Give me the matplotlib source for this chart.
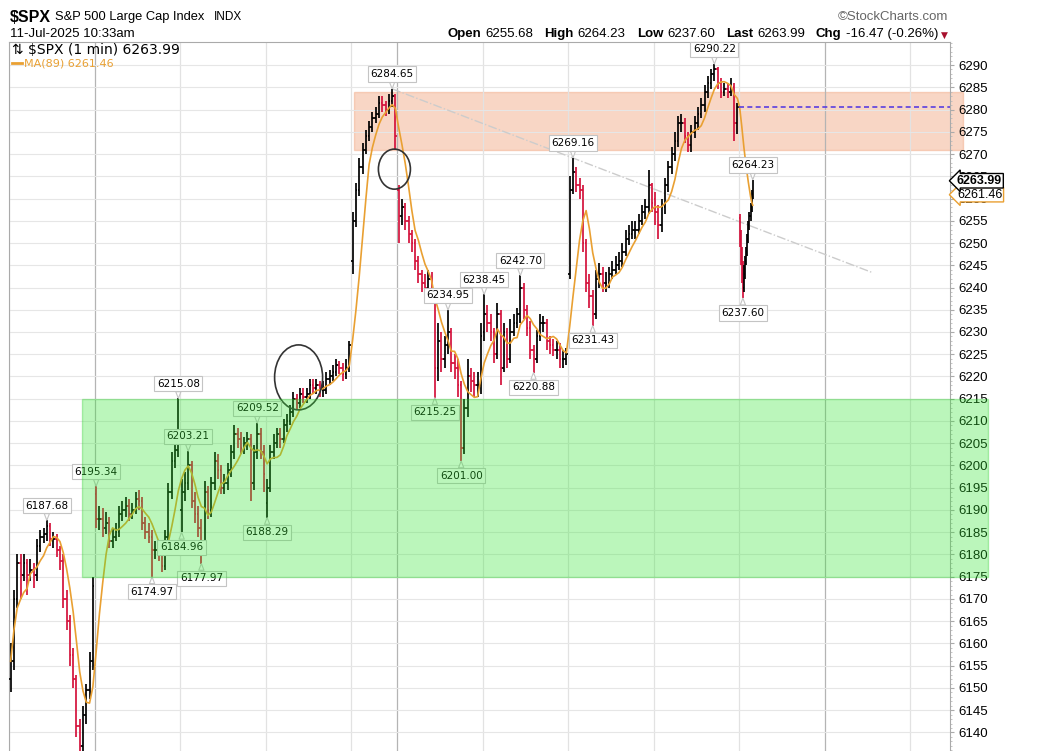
import numpy as np
import pandas as pd
import matplotlib
matplotlib.use('Agg')
import matplotlib.pyplot as plt
from matplotlib.collections import LineCollection
from matplotlib.patches import Rectangle, Ellipse

plt.rcParams['font.family'] = ['Liberation Sans', 'DejaVu Sans']

# sessions shown: 27-Jun, 30-Jun, 1-Jul, 2-Jul, 3-Jul (half day), 7-Jul, 8-Jul, 9-Jul, 10-Jul, 11-Jul
session_len = [390, 390, 390, 390, 210, 390, 390, 390, 390, 390]
bar_minutes = [15, 15, 15, 15, 15, 15, 15, 15, 15, 5]
bars_per_day = [26, 26, 26, 26, 14, 26, 26, 26, 26, 13]
day_opens = [6152, 6193.5, 6190, 6191.5, 6246, 6262, 6230, 6243, 6260, 6255.68]
week_start = [False, True, False, False, False, True, False, False, False, False]

closes = [
    # 27-Jun
    6156, 6170, 6178, 6175.5, 6178, 6175.5, 6176.5, 6175.5, 6182, 6184, 6184.5, 6186.5, 6183.5,
    6183.5, 6181, 6178.5, 6170, 6165, 6157.5, 6152, 6141.5, 6137, 6144, 6149.5, 6156, 6173,
    # 30-Jun
    6188, 6188, 6186, 6187, 6183, 6184, 6185, 6189, 6190, 6191, 6189, 6190, 6192.5,
    6192, 6187, 6185, 6184, 6181, 6181, 6180, 6177.5, 6184, 6194, 6201, 6203.5, 6205,
    # 1-Jul
    6194, 6196, 6200, 6192, 6189, 6186, 6182, 6194, 6190, 6196, 6201, 6199, 6195,
    6196, 6199, 6203, 6207, 6206, 6204, 6205, 6206, 6196, 6203, 6207, 6203, 6198,
    # 2-Jul
    6195, 6203, 6205, 6207, 6206, 6209, 6210, 6212, 6215, 6214, 6216, 6215.5, 6216,
    6218, 6217.5, 6218, 6217, 6217, 6219.5, 6220, 6221, 6222.5, 6222, 6220.5, 6222, 6227,
    # 3-Jul
    6255, 6262, 6267, 6271, 6274, 6276, 6278, 6279, 6281.5, 6281, 6280, 6282, 6283, 6274,
    # 7-Jul
    6256, 6258, 6255, 6252, 6250, 6246, 6243, 6241, 6240, 6242, 6238, 6222, 6228,
    6224, 6227, 6230, 6223, 6222, 6218, 6204, 6213, 6220, 6219, 6218, 6218, 6229,
    # 8-Jul
    6234, 6232, 6230, 6225, 6234, 6222, 6230, 6224, 6230, 6232, 6234, 6240, 6235,
    6231, 6226, 6224, 6229, 6232, 6232, 6228, 6227, 6226, 6226, 6224, 6224, 6225,
    # 9-Jul
    6262, 6266, 6263, 6262, 6250, 6241, 6238, 6234, 6242, 6243, 6241, 6241, 6243,
    6244, 6245, 6246, 6248, 6251, 6252, 6253, 6253, 6255, 6257, 6258, 6263, 6259,
    # 10-Jul
    6257, 6254, 6258, 6263, 6267, 6270, 6273, 6277, 6277, 6274, 6272, 6275, 6277,
    6279, 6281, 6284, 6286, 6288, 6289, 6286, 6284, 6284.5, 6284, 6285, 6277, 6280.5,
    # 11-Jul
    6251, 6246, 6243, 6240, 6243, 6246, 6248, 6251, 6254, 6256, 6258, 6261, 6263.99,
]

highs = [
    6160, 6172, 6180, 6180, 6180, 6179, 6179, 6178, 6183.5, 6185.5, 6186, 6187.68, 6187,
    6185, 6184.5, 6182, 6180, 6172, 6166.5, 6159, 6153, 6143, 6146, 6151, 6158, 6175,
    6195.34, 6191, 6190.5, 6189.5, 6188.5, 6186, 6187, 6191, 6192, 6193, 6192.5, 6191.5, 6194,
    6194.5, 6193, 6188.5, 6187, 6185.5, 6183, 6182.5, 6181.5, 6185.5, 6196, 6203, 6206, 6215.08,
    6197, 6198.5, 6203.21, 6201, 6194, 6191, 6188, 6196.5, 6195.5, 6197.5, 6203, 6202.5, 6200,
    6198, 6200.5, 6204.5, 6209, 6208.5, 6207.5, 6206.5, 6207.5, 6207, 6204.5, 6209.52, 6208.5, 6204.5,
    6197, 6204.5, 6207, 6208.5, 6208.5, 6210.5, 6211.5, 6213.5, 6216.5, 6216, 6217.5, 6217.5, 6217.5,
    6219.5, 6219.5, 6219.5, 6219, 6219, 6221, 6221.5, 6222.5, 6224, 6223.5, 6223, 6224, 6228,
    6257, 6263.5, 6269, 6272.5, 6275.5, 6277.5, 6279.5, 6280.5, 6283, 6283, 6282, 6283.5, 6284.65, 6283.5,
    6263, 6260, 6259, 6256, 6253, 6251, 6247, 6244, 6243, 6244, 6243.5, 6239, 6232,
    6230, 6229, 6234.95, 6231, 6225, 6224, 6219, 6215, 6224, 6222, 6221, 6221, 6232,
    6238.45, 6236, 6234, 6231, 6236.5, 6235, 6232, 6231, 6233, 6234, 6235.5, 6242.70, 6241,
    6236, 6232.5, 6227, 6230.5, 6234, 6233.5, 6233, 6229, 6228.5, 6228, 6227.5, 6226, 6226.5,
    6265, 6269.16, 6267, 6264.5, 6263, 6251, 6243, 6239.5, 6244, 6245.5, 6244.5, 6243.5, 6244.5,
    6246, 6247, 6248, 6250, 6253, 6254, 6255, 6255, 6256.5, 6258.5, 6260, 6266.5, 6263.5,
    6261.5, 6258.5, 6260, 6264.5, 6268.5, 6271.5, 6275, 6278.5, 6279, 6278, 6275, 6276.5, 6278.5,
    6280.5, 6282.5, 6285.5, 6287.5, 6289, 6290.22, 6289.5, 6287, 6286, 6286, 6287, 6286, 6281.5,
    6256.5, 6253, 6249, 6246, 6245, 6247, 6249, 6252, 6255, 6257, 6259, 6262, 6264.23,
]

lows = [
    6149, 6154, 6168, 6170, 6174, 6171, 6174, 6172.5, 6174, 6180.5, 6182.5, 6183, 6182,
    6181.5, 6179.5, 6176.5, 6168, 6163, 6155, 6150, 6139, 6132.35, 6135, 6142, 6147.5, 6154,
    6186, 6185.5, 6184, 6184.5, 6181.5, 6181.5, 6183, 6184, 6187.5, 6188.5, 6187.5, 6188, 6189,
    6190, 6185.5, 6183.5, 6182.5, 6174.97, 6179, 6178.5, 6176, 6176.5, 6182.5, 6192.5, 6199.5, 6202,
    6184.96, 6192, 6194.5, 6190.5, 6187, 6184, 6177.97, 6181, 6188, 6188.5, 6194.5, 6197, 6193.5,
    6193.5, 6194.5, 6197.5, 6201.5, 6204, 6202.5, 6202.5, 6203.5, 6192, 6194.5, 6201.5, 6201.5, 6194,
    6188.29, 6194, 6201.5, 6204, 6204, 6205, 6207.5, 6209, 6211, 6212.5, 6213, 6214, 6214,
    6215, 6216, 6216, 6215.5, 6215.5, 6216, 6218, 6219, 6220, 6220.5, 6219, 6219.5, 6221,
    6243, 6253.5, 6260.5, 6265.5, 6270, 6273, 6275, 6277, 6278, 6279.5, 6278.5, 6279, 6280.5, 6271,
    6250, 6254, 6253, 6250, 6248, 6244, 6241, 6239, 6238, 6239, 6236.5, 6215.25, 6219,
    6221, 6222, 6225, 6221, 6219.5, 6215.5, 6201.00, 6202.5, 6211, 6216.5, 6215.5, 6215.5, 6216,
    6228, 6230, 6228, 6223, 6224, 6218, 6221, 6222, 6223, 6229, 6231, 6232, 6233,
    6229, 6224, 6220.88, 6223, 6228, 6230, 6226, 6225, 6224.5, 6224, 6222, 6222, 6222.5,
    6242, 6261, 6261.5, 6260, 6248, 6239, 6235.5, 6231.43, 6233, 6240, 6239, 6239, 6240,
    6242, 6243, 6244, 6244.5, 6247, 6249.5, 6251, 6251, 6252, 6254, 6255.5, 6256.5, 6257,
    6254, 6251, 6252.5, 6256.5, 6261.5, 6265.5, 6268.5, 6271.5, 6275, 6272.5, 6270.5, 6270.5, 6273.5,
    6275.5, 6278, 6279.5, 6282.5, 6284.5, 6286.5, 6284.5, 6282.5, 6283, 6282.5, 6283, 6273, 6274.5,
    6249, 6245, 6241, 6237.60, 6239, 6242, 6245, 6247, 6250, 6253, 6255, 6257, 6260,
]

peak_labels = [6187.68, 6195.34, 6215.08, 6203.21, 6209.52, 6284.65, 6234.95, 6238.45,
               6242.70, 6269.16, 6290.22, 6264.23]
trough_labels = [6174.97, 6184.96, 6177.97, 6188.29, 6215.25, 6201.00, 6220.88, 6231.43, 6237.60]

prev_close = 6280.46
last_price = 6263.99
ma_last = 6261.46

header_items = [('Open', '6255.68'), ('High', '6264.23'), ('Low', '6237.60'),
                ('Last', '6263.99'), ('Chg', '-16.47 (-0.26%)')]

# ---------------------------------------------------------------
closes = np.array(closes, dtype=float)
highs = np.array(highs, dtype=float)
lows = np.array(lows, dtype=float)

day_start = np.concatenate([[0], np.cumsum(session_len)[:-1]])
t, opens, mins = [], [], []
k0 = 0
for d in range(len(bars_per_day)):
    for k in range(bars_per_day[d]):
        t.append(day_start[d] + (k + 0.5) * bar_minutes[d])
        opens.append(day_opens[d] if k == 0 else closes[k0 + k - 1])
        mins.append(bar_minutes[d])
    k0 += bars_per_day[d]
t = np.array(t)
opens = np.array(opens)

# MA(89) on one-minute closes
minute_close = np.repeat(closes, mins)
ma_min = pd.Series(minute_close).rolling(89, min_periods=1).mean().to_numpy()
ma = ma_min[np.cumsum(mins) - 1]

W, H = 1043, 751
fig = plt.figure(figsize=(W / 100, H / 100), dpi=100)
ax = fig.add_axes([9 / W, 0, 941 / W, 709 / H])
xmax = 941 / (85.5 / 390)
ax.set_xlim(0, xmax)
ax.set_ylim(6135.84, 6295.17)

# grid
ax.set_yticks(np.arange(6140, 6291, 5))
ax.set_yticks(np.arange(6136, 6296, 1), minor=True)
ax.grid(axis='y', which='major', color='#e6e6e6', lw=0.8)
ax.set_xticks([])
grid_days = list(day_start) + [day_start[-1] + 390, day_start[-1] + 780]
grid_week = list(week_start) + [True, False]
for gx, wk in zip(grid_days, grid_week):
    ax.axvline(gx, color='#b4b4b4' if wk else '#e2e2e2', lw=0.9, zorder=1.2)

ax.yaxis.tick_right()
ax.tick_params(axis='y', which='major', length=3, color='#aaaaaa', pad=3, labelsize=9.5)
ax.tick_params(axis='y', which='minor', length=1.5, color='#bbbbbb')
for s in ['left', 'top', 'right']:
    ax.spines[s].set_color('#aaaaaa')
ax.spines['bottom'].set_visible(False)

# resistance / support zones
ax.add_patch(Rectangle((1574, 6271.0), 4352 - 1574, 13.0, fc='#f0a57f', ec='#f0a57f',
                       alpha=0.45, lw=1, zorder=1, clip_on=False))
ax.add_patch(Rectangle((333, 6175), 4466 - 333, 40, fc='#33e633', ec='#22cc22',
                       alpha=0.33, lw=1, zorder=7, clip_on=False))

# OHLC bars
up = closes >= opens
segs, cols = [], []
for i in range(len(closes)):
    w = 7 if mins[i] == 15 else 3
    c = 'black' if up[i] else '#d4123c'
    segs += [[(t[i], lows[i]), (t[i], highs[i])],
             [(t[i] - w, opens[i]), (t[i], opens[i])],
             [(t[i], closes[i]), (t[i] + w, closes[i])]]
    cols += [c, c, c]
ax.add_collection(LineCollection(segs, colors=cols, linewidths=1.25, zorder=3))

ax.plot(t, ma, color='#e9a032', lw=1.2, zorder=4)

# trendline, previous close, circles
i_top = int(np.argmin(np.abs(highs - 6284.65)))
ax.plot([t[i_top], 3941], [6284.65, 6243.3], color='#cccccc', ls='-.', lw=1, zorder=2)
ax.plot([day_start[-1], xmax], [prev_close, prev_close], color='#5a3ee0',
        ls=(0, (3, 2)), lw=1.2, zorder=4)
ax.add_patch(Ellipse((1321, 6219.8), 219, 14.6, fill=False, ec='#333333', lw=1.2, zorder=6))
ax.add_patch(Ellipse((1758, 6266.6), 146, 9.0, fill=False, ec='#333333', lw=1.2, zorder=6))


def callout(x, y, above):
    ax.annotate(f'{y:.2f}', xy=(x, y), xytext=(0, 7 if above else -7),
                textcoords='offset points', ha='center',
                va='bottom' if above else 'top', fontsize=7.5, family='DejaVu Sans',
                bbox=dict(boxstyle='square,pad=0.25', fc='white', ec='#c4c4c4', lw=0.8),
                arrowprops=dict(arrowstyle='wedge,tail_width=0.5', fc='white',
                                ec='#c4c4c4', lw=0.8, shrinkA=0, shrinkB=0),
                zorder=6)


for v in peak_labels:
    i = int(np.argmin(np.abs(highs - v)))
    callout(t[i], highs[i], True)
for v in trough_labels:
    i = int(np.argmin(np.abs(lows - v)))
    callout(t[i], lows[i], False)

# right-hand price tags
ytr = ax.get_yaxis_transform()
ax.annotate(f'{last_price:.2f}', xy=(1, last_price), xycoords=ytr, xytext=(5, 0),
            textcoords='offset points', ha='left', va='center', fontsize=9,
            fontweight='bold', annotation_clip=False, zorder=10,
            bbox=dict(boxstyle='larrow,pad=0.1', fc='white', ec='black', lw=1))
ax.annotate(f'{ma_last:.2f}', xy=(1, ma_last - 0.6), xycoords=ytr, xytext=(5, 0),
            textcoords='offset points', ha='left', va='center', fontsize=9,
            annotation_clip=False, zorder=9,
            bbox=dict(boxstyle='larrow,pad=0.1', fc='white', ec='#e9a032', lw=1))


def ftext(x, y, s, **kw):
    return fig.text(x / W, 1 - y / H, s, va='center', **kw)


ftext(10, 17, '$SPX', fontsize=11.5, fontweight='bold')
ftext(55, 17, 'S&P 500 Large Cap Index', fontsize=9.3)
ftext(214, 17, 'INDX', fontsize=8.5)
ftext(838, 17, '\u00a9StockCharts.com', fontsize=9.5, color='#666666')
ftext(10, 34, '11-Jul-2025 10:33am', fontsize=9.5)

# quote line, laid out right to left so it ends at the marker
renderer = fig.canvas.get_renderer()
x_cursor = 938
for lab, val in reversed(header_items):
    tv = ftext(x_cursor, 34, val, fontsize=9.5, ha='right')
    wv = tv.get_window_extent(renderer).width
    tl = ftext(x_cursor - wv - 4, 34, lab, fontsize=9.5, fontweight='bold', ha='right')
    wl = tl.get_window_extent(renderer).width
    x_cursor = x_cursor - wv - 4 - wl - 11
ftext(941, 35, '\u25bc', fontsize=6.5, color='#a8102e', family='DejaVu Sans')

ftext(12, 50, '\u21c5 $SPX (1 min) 6263.99', fontsize=10, family='DejaVu Sans')
fig.add_artist(plt.Line2D([12 / W, 22 / W], [1 - 63 / H, 1 - 63 / H], color='#e9a032', lw=2))
ftext(24, 63, 'MA(89) 6261.46', fontsize=8, color='#e9a032', family='DejaVu Sans')

fig.savefig('out.png', dpi=100)
